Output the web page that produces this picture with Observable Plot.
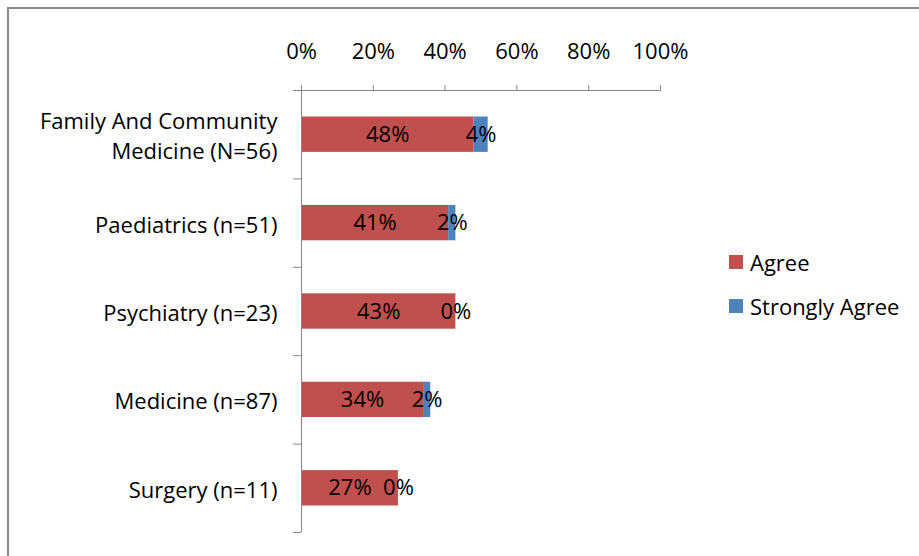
<!DOCTYPE html>
<html>
<head>
<meta charset="utf-8">
<script src="https://cdn.jsdelivr.net/npm/d3@7"></script>
<script src="https://cdn.jsdelivr.net/npm/@observablehq/plot@0.6"></script>
<style>
  html, body { margin: 0; padding: 0; background: #fff; overflow: hidden; }
  #wrap { position: relative; width: 919px; height: 556px; }
  #border { position: absolute; left: 7px; top: 7px; width: 1000px; height: 1000px; border: 2px solid #8c8c8c; pointer-events: none; }
  #legend { position: absolute; left: 729px; top: 249px; font-family: "Open Sans", sans-serif; font-size: 22px; color: #000; }
  .item { display: flex; align-items: center; height: 26px; margin-bottom: 18px; }
  .sw { width: 14px; height: 14px; margin-right: 7px; }
</style>
</head>
<body>
<div id="wrap">
  <div id="chart"></div>
  <div id="legend"></div>
  <div id="border"></div>
</div>
<script>
const categories = ["Family And Community\nMedicine (N=56)", "Paediatrics (n=51)", "Psychiatry (n=23)", "Medicine (n=87)", "Surgery (n=11)"];
const agree = [48, 41, 43, 34, 27];
const stronglyAgree = [4, 2, 0, 2, 0];
const xTicks = [0, 20, 40, 60, 80, 100];
const seriesNames = ["Agree", "Strongly Agree"];
const seriesColors = ["#C0504D", "#4F81BD"];

const rows = categories.map((c, i) => ({i, c, agree: agree[i], strong: stronglyAgree[i]}));
const seg = rows.flatMap(r => [
  {i: r.i, series: "Agree", x1: 0, x2: r.agree, value: r.agree},
  {i: r.i, series: "Strongly Agree", x1: r.agree, x2: r.agree + r.strong, value: r.strong}
]);
const boundaries = [-0.5, ...categories.map((_, i) => i + 0.5)];
const axisColor = "#868686";

const chart = Plot.plot({
  width: 919,
  height: 556,
  marginTop: 90,
  marginLeft: 301,
  marginRight: 259,
  marginBottom: 24,
  x: {domain: [0, 100], axis: null},
  y: {domain: [4.5, -0.5], axis: null},
  color: {domain: seriesNames, range: seriesColors},
  style: {fontFamily: "Open Sans, sans-serif", fontSize: "22px", color: "#000", background: "transparent", overflow: "visible"},
  marks: [
    Plot.rectX(seg, {x1: "x1", x2: "x2", y1: d => d.i - 0.2, y2: d => d.i + 0.2, fill: "series"}),
    Plot.ruleX([0], {y1: -0.5, y2: 4.5, stroke: axisColor}),
    Plot.ruleY([-0.5], {x1: 0, x2: 100, stroke: axisColor}),
    Plot.ruleY(boundaries, {x1: 0, x2: 0, insetLeft: -8, stroke: axisColor}),
    Plot.axisX(xTicks, {anchor: "top", tickFormat: d => d + "%", tickSize: 6, tickPadding: 26, stroke: axisColor, fill: "#000", fontSize: 22}),
    Plot.text(rows, {x: 0, y: "i", text: "c", textAnchor: "end", dx: -24, lineHeight: 1.36, fill: "#000", fontSize: 22}),
    Plot.text(seg, {x: d => (d.x1 + d.x2) / 2, y: "i", text: d => d.value + "%", fill: "#000", fontSize: 22})
  ]
});
document.getElementById("chart").appendChild(chart);

const legend = document.getElementById("legend");
seriesNames.forEach((name, k) => {
  const item = document.createElement("div");
  item.className = "item";
  const sw = document.createElement("span");
  sw.className = "sw";
  sw.style.background = seriesColors[k];
  const t = document.createElement("span");
  t.textContent = name;
  item.appendChild(sw);
  item.appendChild(t);
  legend.appendChild(item);
});
</script>
</body>
</html>
